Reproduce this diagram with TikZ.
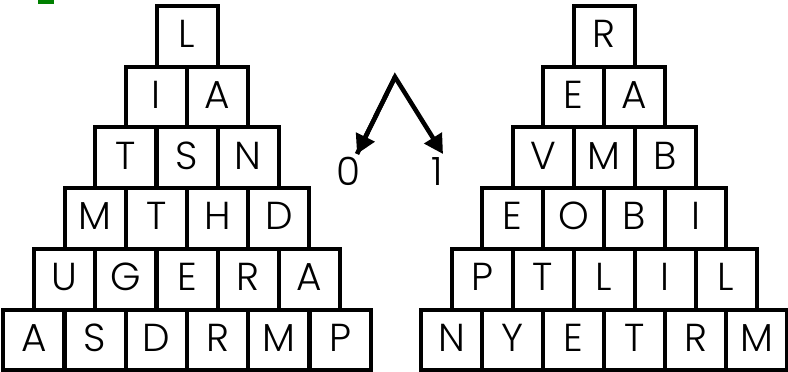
\documentclass[tikz,border=0pt]{standalone}
\usepackage{fontspec}
\IfFontExistsTF{Poppins Light}{\setmainfont{Poppins Light}}{\setmainfont{Poppins}}
\usetikzlibrary{arrows.meta}
\definecolor{markgreen}{RGB}{0,128,0}
\begin{document}
\begin{tikzpicture}[x=1pt,y=-1pt,
  cell/.style={draw=black,line width=4pt,minimum width=61pt,minimum height=60.7pt,
    inner sep=0pt,outer sep=0pt,font=\fontsize{39}{39}\selectfont,text height=23pt,text depth=0pt},
  lbl/.style={inner sep=0pt,font=\fontsize{39}{39}\selectfont,text height=26pt,text depth=0pt},
  arr/.style={line width=4.5pt,-{Triangle[length=19pt,width=20pt]}}]
\useasboundingbox (0,0) rectangle (788,372);
\fill[markgreen] (38,0) rectangle (54,3.5);
% left pyramid
\foreach \r/\txt in {0/{L},1/{I,A},2/{T,S,N},3/{M,T,H,D},4/{U,G,E,R,A},5/{A,S,D,R,M,P}}{
  \foreach \c [count=\i from 0] in \txt {
    \node[cell] (L\r-\i) at ({187+(\i-\r/2)*61.3},{6+60.7*(\r+0.5)}) {\c};
  }
}
% right pyramid
\foreach \r/\txt in {0/{R},1/{E,A},2/{V,M,B},3/{E,O,B,I},4/{P,T,L,I,L},5/{N,Y,E,T,R,M}}{
  \foreach \c [count=\i from 0] in \txt {
    \node[cell] (R\r-\i) at ({604+(\i-\r/2)*61},{6+60.7*(\r+0.5)}) {\c};
  }
}
% arrows
\coordinate (apex) at (395,77);
\coordinate (tipl) at (357,154);
\coordinate (tipr) at (443,154);
\node[lbl] (zero) at (349,172) {0};
\node[lbl] (one) at (437,172) {1};
\draw[arr,line join=miter] (tipl) -- (apex) -- (tipr);
\draw[arr] (apex) -- (tipl);
\end{tikzpicture}
\end{document}
